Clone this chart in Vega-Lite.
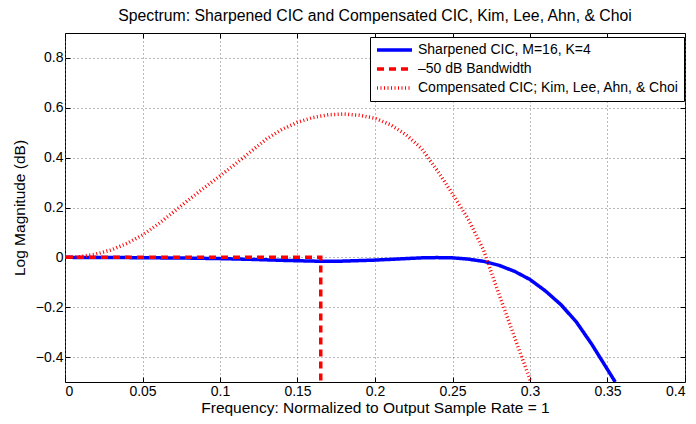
{
  "$schema": "https://vega.github.io/schema/vega-lite/v6.json",
  "autosize": "none",
  "padding": {"left": 65, "top": 33, "right": 11, "bottom": 42},
  "width": 620,
  "height": 349,
  "background": "white",
  "config": {
    "font": "Liberation Sans",
    "view": {"stroke": "#000", "strokeWidth": 1},
    "axis": {"labelFont": "Liberation Sans", "titleFont": "Liberation Sans", "labelFontSize": 14, "titleFontSize": 15.5, "titleFontWeight": "normal", "labelColor": "#000", "titleColor": "#000", "domain": false, "tickColor": "#000", "tickSize": -5, "labelPadding": 7, "format": "~g"}
  },
  "title": {"text": "Spectrum: Sharpened CIC and Compensated CIC, Kim, Lee, Ahn, & Choi", "fontSize": 15.8, "fontWeight": "normal", "font": "Liberation Sans", "color": "#000", "offset": 8},
  "data": {"values": [
    {"s": "Sharpened CIC, M=16, K=4", "i": 0, "f": 0.0, "m": 0.0},
    {"s": "Sharpened CIC, M=16, K=4", "i": 1, "f": 0.02, "m": -0.0003},
    {"s": "Sharpened CIC, M=16, K=4", "i": 2, "f": 0.04, "m": -0.001},
    {"s": "Sharpened CIC, M=16, K=4", "i": 3, "f": 0.06, "m": -0.002},
    {"s": "Sharpened CIC, M=16, K=4", "i": 4, "f": 0.08, "m": -0.003},
    {"s": "Sharpened CIC, M=16, K=4", "i": 5, "f": 0.10, "m": -0.005},
    {"s": "Sharpened CIC, M=16, K=4", "i": 6, "f": 0.12, "m": -0.008},
    {"s": "Sharpened CIC, M=16, K=4", "i": 7, "f": 0.14, "m": -0.012},
    {"s": "Sharpened CIC, M=16, K=4", "i": 8, "f": 0.16, "m": -0.015},
    {"s": "Sharpened CIC, M=16, K=4", "i": 9, "f": 0.17, "m": -0.016},
    {"s": "Sharpened CIC, M=16, K=4", "i": 10, "f": 0.18, "m": -0.015},
    {"s": "Sharpened CIC, M=16, K=4", "i": 11, "f": 0.20, "m": -0.011},
    {"s": "Sharpened CIC, M=16, K=4", "i": 12, "f": 0.22, "m": -0.005},
    {"s": "Sharpened CIC, M=16, K=4", "i": 13, "f": 0.23, "m": -0.002},
    {"s": "Sharpened CIC, M=16, K=4", "i": 14, "f": 0.24, "m": -0.001},
    {"s": "Sharpened CIC, M=16, K=4", "i": 15, "f": 0.25, "m": -0.002},
    {"s": "Sharpened CIC, M=16, K=4", "i": 16, "f": 0.26, "m": -0.007},
    {"s": "Sharpened CIC, M=16, K=4", "i": 17, "f": 0.27, "m": -0.016},
    {"s": "Sharpened CIC, M=16, K=4", "i": 18, "f": 0.28, "m": -0.032},
    {"s": "Sharpened CIC, M=16, K=4", "i": 19, "f": 0.29, "m": -0.056},
    {"s": "Sharpened CIC, M=16, K=4", "i": 20, "f": 0.30, "m": -0.089},
    {"s": "Sharpened CIC, M=16, K=4", "i": 21, "f": 0.31, "m": -0.135},
    {"s": "Sharpened CIC, M=16, K=4", "i": 22, "f": 0.32, "m": -0.19},
    {"s": "Sharpened CIC, M=16, K=4", "i": 23, "f": 0.33, "m": -0.26},
    {"s": "Sharpened CIC, M=16, K=4", "i": 24, "f": 0.34, "m": -0.35},
    {"s": "Sharpened CIC, M=16, K=4", "i": 25, "f": 0.35, "m": -0.45},
    {"s": "Sharpened CIC, M=16, K=4", "i": 26, "f": 0.355, "m": -0.5},
    {"s": "–50 dB Bandwidth", "i": 0, "f": 0.0, "m": 0.0},
    {"s": "–50 dB Bandwidth", "i": 1, "f": 0.165, "m": 0.0},
    {"s": "–50 dB Bandwidth", "i": 2, "f": 0.165, "m": -0.5},
    {"s": "Compensated CIC; Kim, Lee, Ahn, & Choi", "i": 0, "f": 0.0, "m": 0.0},
    {"s": "Compensated CIC; Kim, Lee, Ahn, & Choi", "i": 1, "f": 0.01, "m": 0.003},
    {"s": "Compensated CIC; Kim, Lee, Ahn, & Choi", "i": 2, "f": 0.02, "m": 0.013},
    {"s": "Compensated CIC; Kim, Lee, Ahn, & Choi", "i": 3, "f": 0.03, "m": 0.03},
    {"s": "Compensated CIC; Kim, Lee, Ahn, & Choi", "i": 4, "f": 0.04, "m": 0.056},
    {"s": "Compensated CIC; Kim, Lee, Ahn, & Choi", "i": 5, "f": 0.05, "m": 0.09},
    {"s": "Compensated CIC; Kim, Lee, Ahn, & Choi", "i": 6, "f": 0.06, "m": 0.133},
    {"s": "Compensated CIC; Kim, Lee, Ahn, & Choi", "i": 7, "f": 0.07, "m": 0.182},
    {"s": "Compensated CIC; Kim, Lee, Ahn, & Choi", "i": 8, "f": 0.08, "m": 0.232},
    {"s": "Compensated CIC; Kim, Lee, Ahn, & Choi", "i": 9, "f": 0.09, "m": 0.28},
    {"s": "Compensated CIC; Kim, Lee, Ahn, & Choi", "i": 10, "f": 0.10, "m": 0.327},
    {"s": "Compensated CIC; Kim, Lee, Ahn, & Choi", "i": 11, "f": 0.11, "m": 0.375},
    {"s": "Compensated CIC; Kim, Lee, Ahn, & Choi", "i": 12, "f": 0.12, "m": 0.425},
    {"s": "Compensated CIC; Kim, Lee, Ahn, & Choi", "i": 13, "f": 0.13, "m": 0.475},
    {"s": "Compensated CIC; Kim, Lee, Ahn, & Choi", "i": 14, "f": 0.14, "m": 0.513},
    {"s": "Compensated CIC; Kim, Lee, Ahn, & Choi", "i": 15, "f": 0.15, "m": 0.542},
    {"s": "Compensated CIC; Kim, Lee, Ahn, & Choi", "i": 16, "f": 0.16, "m": 0.561},
    {"s": "Compensated CIC; Kim, Lee, Ahn, & Choi", "i": 17, "f": 0.17, "m": 0.572},
    {"s": "Compensated CIC; Kim, Lee, Ahn, & Choi", "i": 18, "f": 0.18, "m": 0.575},
    {"s": "Compensated CIC; Kim, Lee, Ahn, & Choi", "i": 19, "f": 0.19, "m": 0.57},
    {"s": "Compensated CIC; Kim, Lee, Ahn, & Choi", "i": 20, "f": 0.20, "m": 0.558},
    {"s": "Compensated CIC; Kim, Lee, Ahn, & Choi", "i": 21, "f": 0.21, "m": 0.532},
    {"s": "Compensated CIC; Kim, Lee, Ahn, & Choi", "i": 22, "f": 0.22, "m": 0.492},
    {"s": "Compensated CIC; Kim, Lee, Ahn, & Choi", "i": 23, "f": 0.23, "m": 0.437},
    {"s": "Compensated CIC; Kim, Lee, Ahn, & Choi", "i": 24, "f": 0.24, "m": 0.35},
    {"s": "Compensated CIC; Kim, Lee, Ahn, & Choi", "i": 25, "f": 0.25, "m": 0.255},
    {"s": "Compensated CIC; Kim, Lee, Ahn, & Choi", "i": 26, "f": 0.26, "m": 0.155},
    {"s": "Compensated CIC; Kim, Lee, Ahn, & Choi", "i": 27, "f": 0.27, "m": 0.03},
    {"s": "Compensated CIC; Kim, Lee, Ahn, & Choi", "i": 28, "f": 0.28, "m": -0.148},
    {"s": "Compensated CIC; Kim, Lee, Ahn, & Choi", "i": 29, "f": 0.29, "m": -0.32},
    {"s": "Compensated CIC; Kim, Lee, Ahn, & Choi", "i": 30, "f": 0.3, "m": -0.49},
    {"s": "Compensated CIC; Kim, Lee, Ahn, & Choi", "i": 31, "f": 0.301, "m": -0.5}
  ]},
  "layer": [
    {
      "mark": {"type": "line", "clip": true},
      "encoding": {
        "x": {"field": "f", "type": "quantitative", "scale": {"domain": [0, 0.4], "nice": false, "zero": false},
          "axis": {"values": [0, 0.05, 0.1, 0.15, 0.2, 0.25, 0.3, 0.35, 0.4], "title": "Frequency: Normalized to Output Sample Rate = 1", "grid": true, "gridDash": [1, 3], "gridColor": "#777", "titlePadding": 2}},
        "y": {"field": "m", "type": "quantitative", "scale": {"domain": [-0.5, 0.9], "nice": false, "zero": false},
          "axis": {"values": [-0.4, -0.2, 0, 0.2, 0.4, 0.6, 0.8], "title": "Log Magnitude (dB)", "grid": true, "gridDash": [1, 3], "gridColor": "#777", "titlePadding": 8}},
        "order": {"field": "i", "type": "quantitative"},
        "color": {"field": "s", "type": "nominal", "title": null,
          "scale": {"domain": ["Sharpened CIC, M=16, K=4", "–50 dB Bandwidth", "Compensated CIC; Kim, Lee, Ahn, & Choi"], "range": ["#0000ff", "#ff0000", "#ff0000"]},
          "legend": {"orient": "none", "legendX": 305, "legendY": 4, "strokeColor": "#000", "fillColor": "#fff", "padding": 5, "labelFontSize": 14, "labelFont": "Liberation Sans", "labelColor": "#000", "symbolType": "stroke", "symbolSize": 1225, "clipHeight": 16, "rowPadding": 3, "labelOffset": 4, "labelLimit": 400, "cornerRadius": 0}},
        "strokeDash": {"field": "s", "type": "nominal", "title": null,
          "scale": {"domain": ["Sharpened CIC, M=16, K=4", "–50 dB Bandwidth", "Compensated CIC; Kim, Lee, Ahn, & Choi"], "range": [[1, 0], [7, 5], [1, 2.5]]}},
        "strokeWidth": {"field": "s", "type": "nominal", "title": null,
          "scale": {"domain": ["Sharpened CIC, M=16, K=4", "–50 dB Bandwidth", "Compensated CIC; Kim, Lee, Ahn, & Choi"], "range": [3.5, 3.5, 1.6]}}
      }
    },
    {
      "mark": {"type": "line", "opacity": 0},
      "encoding": {
        "x": {"field": "f", "type": "quantitative", "axis": {"orient": "top", "values": [0, 0.05, 0.1, 0.15, 0.2, 0.25, 0.3, 0.35, 0.4], "labels": false, "title": null, "grid": false}},
        "y": {"field": "m", "type": "quantitative", "axis": {"orient": "right", "values": [-0.4, -0.2, 0, 0.2, 0.4, 0.6, 0.8], "labels": false, "title": null, "grid": false}}
      }
    }
  ],
  "resolve": {"axis": {"x": "independent", "y": "independent"}}
}
